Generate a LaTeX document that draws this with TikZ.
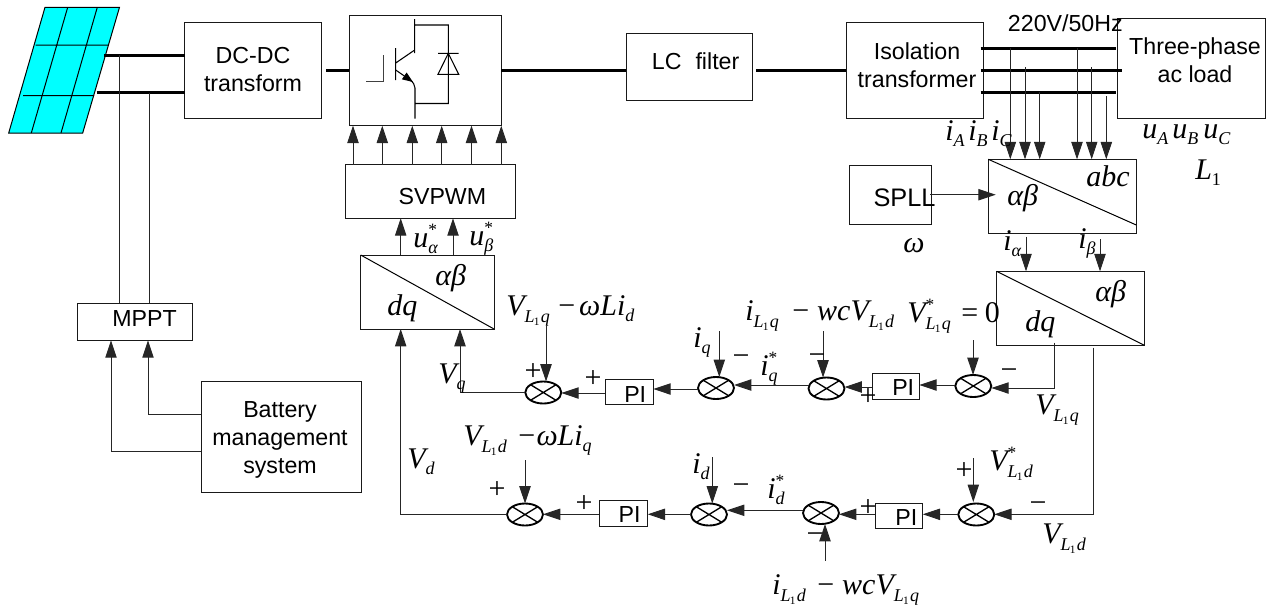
\documentclass[tikz,border=0pt]{standalone}
\usepackage{fontspec}
\setmainfont{Liberation Serif}
\setsansfont{Liberation Sans}
\usetikzlibrary{arrows.meta,shapes.geometric,calc}
\definecolor{pvcyan}{RGB}{0,255,255}
\newcommand\mbig{\fontsize{22.5}{25}\selectfont\itshape}
\newcommand\msub[1]{\raisebox{-5pt}{\fontsize{13.5}{14}\selectfont\itshape #1}}
\newcommand\Lsub[1]{\raisebox{-5.5pt}{\fontsize{13.5}{14}\selectfont\itshape L\kern-0.5pt\raisebox{-2pt}{\fontsize{8.5}{9}\selectfont\upshape 1}\kern1pt#1}}
\newcommand\mstar{\rlap{\raisebox{9pt}{\fontsize{13}{14}\selectfont\upshape *}}}
\newcommand\umin{{\upshape −}}
\tikzset{
  x=0.75pt,y=-0.75pt,
  box/.style={draw=black!90,line width=0.75pt,inner sep=0pt,outer sep=0pt,rectangle},
  txt/.style={font=\sffamily\fontsize{17.4}{21}\selectfont,inner sep=0pt,align=center},
  lbl/.style={anchor=base west,inner sep=0pt,font=\mbig},
  sgn/.style={inner sep=0pt,font=\fontsize{22.5}{25}\selectfont},
  sumn/.style={draw=black,line width=1.4pt,ellipse,minimum width=27pt,minimum height=16.5pt,inner sep=0pt,outer sep=0pt},
  thin line/.style={draw=black!85,line width=0.7pt},
  thick bus/.style={draw=black,line width=2.25pt},
  arr/.style={thin line,-{Triangle[length=13pt,width=8.5pt]}},
}
% name, x1, y1, x2, y2
\newcommand\mkbox[6][]{\node[box,minimum width={(#5-#3)*0.75pt},minimum height={(#6-#4)*0.75pt},#1] (#2) at ({(#3+#5)/2},{(#4+#6)/2}) {};}
\newcommand\mksum[3]{\node[sumn] (#1) at (#2,#3) {};
  \draw[line width=1pt] (#1.north west) -- (#1.south east) (#1.north east) -- (#1.south west);}
\newcommand\lab[4]{\node[lbl] (#1) at (#2,#3) {#4};}
\newcommand\tx[5][]{\node[txt,#1] (#2) at (#3,#4) {#5};}
\begin{document}
\begin{tikzpicture}
\useasboundingbox (0,0) rectangle (1275,608);
% PV panel
\fill[pvcyan] (45,7.3) -- (119.5,7.3) -- (82.7,133) -- (8.7,133) -- cycle;
\draw[line width=0.75pt] (45,7.3) -- (119.5,7.3) -- (82.7,133) -- (8.7,133) -- cycle;
\draw[line width=0.75pt] (35.5,45) -- (108.5,45) (23,95.7) -- (94,95.7)
  (67.7,7.3) -- (31.3,133) (97.3,7.3) -- (61,133);
\coordinate (pv1) at (104,55);
\coordinate (pv2) at (96.7,92.5);
\coordinate (j1) at (119.5,55);
\coordinate (j2) at (149,92.5);
% boxes
\mkbox{dc}{184.5}{22.3}{321.7}{118.5}
\mkbox{inv}{349.3}{15}{501.3}{125.7}
\mkbox{svpwm}{345.3}{164.7}{515.7}{218.3}
\mkbox{lc}{626.3}{33.3}{752.3}{100}
\mkbox{iso}{846.3}{22.3}{983.7}{118.3}
\mkbox{load}{1117.3}{18.7}{1265.7}{118.3}
\mkbox{pabc}{988.3}{159.3}{1136.3}{233}
\mkbox{spll}{849.7}{165}{931.7}{224}
\mkbox{pdqr}{996.7}{271.3}{1144.3}{345.3}
\mkbox{pdql}{360.7}{255}{494}{329}
\mkbox{mppt}{77.7}{303}{192.3}{340.3}
\mkbox{batt}{201}{381.3}{361}{492}
\mkbox{pia}{605.3}{379.3}{653.3}{404}
\mkbox{pib}{872.3}{373.3}{919.3}{399.3}
\mkbox{pic}{599.3}{500.7}{647.7}{526}
\mkbox{pid}{875}{503.3}{922.7}{528.3}
\draw[line width=0.75pt] (pabc.north west) -- (pabc.east |- 0,225);
\draw[line width=0.75pt] (pdqr.north west) -- (pdqr.south east);
\draw[line width=0.75pt] (pdql.north west) -- (pdql.south east);
% summing junctions
\mksum{sa}{543.3}{392.5}
\mksum{sb}{716}{388}
\mksum{sc}{826.5}{388.5}
\mksum{sd}{973.3}{386}
\mksum{se}{525}{514.5}
\mksum{sf}{709}{514.5}
\mksum{sg}{821}{513}
\mksum{sh}{976.3}{514.5}
% IGBT symbol
\draw[line width=0.75pt,draw=black!75]
  (366,81.3) -- (383.7,81.3) (383.7,55) -- (383.7,81.3);
\draw[line width=0.8pt]
  (395.7,48) -- (395.7,80)
  (395.7,63) -- (414.7,50) (414.7,19) -- (414.7,53)
  (414.7,25) -- (448.3,25) -- (448.3,103.5) -- (414.7,103.5)
  (415,88) -- (415,118.5);
\draw[line width=0.8pt,-{Triangle[length=8pt,width=6pt]}] (395.7,70) -- (413,82);
\draw[line width=0.8pt] (410,80) .. controls (413,82) and (415,85) .. (415,88);
\draw[line width=0.8pt] (438,53.3) -- (458.7,53.3) (448.3,53.3) -- (438,74.3) -- (458.7,74.3) -- cycle;
% power buses
\draw[thick bus] (pv1) -- (dc.west |- pv1);
\draw[thick bus] (pv2) -- (dc.west |- pv2);
\coordinate (dcout) at (326,70);
\draw[thick bus] (dcout) -- (inv.west |- dcout);
\draw[thick bus] (inv.east |- 0,70) -- (lc.west |- 0,70);
\coordinate (lcout) at (756,70);
\draw[thick bus] (lcout) -- (iso.west |- lcout);
\coordinate (ba) at (980.7,48);
\coordinate (bb) at (980.7,70);
\coordinate (bc) at (980.7,92);
\coordinate (be) at (1116,48);
\coordinate (bf) at (1122,70);
\coordinate (bg) at (1116,92);
\draw[thick bus] (ba) -- (be);
\draw[thick bus] (bb) -- (bf);
\draw[thick bus] (bc) -- (bg);
% MPPT
\draw[thin line] (j1) -- (j1 |- mppt.north);
\draw[thin line] (j2) -- (j2 |- mppt.north);
\draw[arr] (batt.west |- 0,451.3) -| (mppt.south -| 111,0);
\draw[arr] (batt.west |- 0,414.3) -| (mppt.south -| 148,0);
% gate arrows
\foreach \gx in {353,382.3,412.3,441.7,471.5,501.3}
  \draw[arr] (svpwm.north -| \gx,0) -- (inv.south -| \gx,0);
\draw[arr] (pdql.north -| 400.7,0) -- (svpwm.south -| 400.7,0);
\draw[arr] (pdql.north -| 453,0) -- (svpwm.south -| 453,0);
% measurement arrows
\coordinate (ma) at (1010.3,48);
\coordinate (mb) at (1025,67);
\coordinate (mc) at (1039.7,92);
\coordinate (md) at (1077,48);
\coordinate (me) at (1091.7,67);
\coordinate (mf) at (1106.3,96.3);
\foreach \m in {ma,mb,mc,md,me,mf}
  \draw[arr] (\m) -- (\m |- pabc.north);
\draw[arr] (930,194.7) -- (995.7,194.7);
\coordinate (ia) at (1026,236.7);
\coordinate (ib) at (1100,239);
\draw[arr] (ia) -- (ia |- pdqr.north);
\draw[arr] (ib) -- (ib |- pdqr.north);
% q loop
\coordinate (qo) at (1054,342.7);
\draw[arr] (qo) |- (sd.east |- 0,388);
\draw[arr] (sd.west |- 0,385) -- (pib.east |- 0,385);
\draw[arr] (pib.west |- 0,387) -- (sc.east |- 0,387);
\draw[arr] (sc.west |- 0,385) -- (sb.east |- 0,385);
\draw[arr] (sb.west |- 0,389) -- (pia.east |- 0,389);
\draw[arr] (pia.west |- 0,393) -- (sa.east |- 0,393);
\draw[arr] (sa.west |- 0,392.5) -| (pdql.south -| 460,0);
% d loop
\coordinate (dout) at (1093,347.7);
\draw[arr] (dout) |- (sh.east |- 0,514.3);
\draw[arr] (sh.west |- 0,514.3) -- (pid.east |- 0,514.3);
\draw[arr] (pid.west |- 0,514.3) -- (sg.east |- 0,514.3);
\draw[arr] (sg.west |- 0,510.3) -- (sf.east |- 0,510.3);
\draw[arr] (sf.west |- 0,514.3) -- (pic.east |- 0,514.3);
\draw[arr] (pic.west |- 0,514.3) -- (se.east |- 0,514.3);
\draw[arr] (se.west |- 0,514.3) -| (pdql.south -| 400.7,0);
% feed-forward arrows
\coordinate (fa) at (546,326);
\coordinate (fb) at (719.3,331);
\coordinate (fc) at (823,331);
\coordinate (fd) at (973,340);
\coordinate (fe) at (525,460.3);
\coordinate (ff) at (712.3,457);
\coordinate (fg) at (973.3,458.3);
\coordinate (fh) at (825,560.7);
\draw[arr] (fa) -- (fa |- sa.north);
\draw[arr] (fb) -- (fb |- sb.north);
\draw[arr] (fc) -- (fc |- sc.north);
\draw[arr] (fd) -- (fd |- sd.north);
\draw[arr] (fe) -- (fe |- se.north);
\draw[arr] (ff) -- (ff |- sf.north);
\draw[arr] (fg) -- (fg |- sg.north);
\draw[arr] (fh) -- (fh |- sg.south);
% block texts
\tx{tdc}{253}{69.5}{DC-DC\\[0.5pt]transform}
\tx[anchor=base west]{tsv}{398.3}{204}{SVPWM}
\tx[anchor=base west]{tlc}{651.7}{69}{LC\hspace{0.6em}filter}
\tx{tiso}{917}{65.5}{Isolation\\transformer}
\tx{tload}{1195}{60.5}{Three-phase\\ac load}
\tx[anchor=base west]{tvolt}{1007.7}{31.7}{220V/50Hz}
\tx[anchor=base west,font=\sffamily\fontsize{19}{21}\selectfont]{tspll}{873.3}{206.7}{SPLL}
\tx[anchor=base west]{tmp}{112}{326.7}{MPPT}
\tx{tbat}{280}{439.5}{Battery\\management\\system}
\tx[anchor=base west]{tpa}{624}{402.7}{PI}
\tx[anchor=base west]{tpb}{892}{395}{PI}
\tx[anchor=base west]{tpc}{618.3}{522.7}{PI}
\tx[anchor=base west]{tpd}{895}{525}{PI}
% math labels
\lab{la}{945}{140}{i\msub{A}}
\lab{lb}{968}{140}{i\msub{B}}
\lab{lc2}{991}{140}{i\msub{C}}
\lab{lu1}{1142}{138}{u\msub{A}}
\lab{lu2}{1172}{138}{u\msub{B}}
\lab{lu3}{1203}{138}{u\msub{C}}
\lab{ll1}{1195}{179}{L\msub{\upshape 1}}
\lab{lw}{903}{252}{ω}
\lab{lab1}{1007}{205}{αβ}
\lab{labc}{1086}{186}{abc}
\lab{lia}{1003}{250}{i\msub{α}}
\lab{lib}{1078}{248}{i\msub{β}}
\lab{lab2}{1095}{301}{αβ}
\lab{ldq2}{1025}{331}{dq}
\lab{lua}{413}{247}{u\mstar\msub{α}}
\lab{lub}{469}{245}{u\mstar\msub{β}}
\lab{lab3}{435}{285}{αβ}
\lab{ldq1}{387}{315}{dq}
\lab{lv1}{506}{315}{V\Lsub{q}}
\lab{lv1b}{558}{315}{\umin\kern3pt ωLi\msub{d}}
\lab{liq}{693}{347}{i\msub{q}}
\lab{lvq}{438}{383}{V\msub{q}}
\lab{li2}{745}{320}{i\Lsub{q}}
\lab{li2b}{792}{320}{\umin\kern6pt wcV\Lsub{d}}
\lab{lv2}{907}{322}{V\mstar\Lsub{q}}
\lab{lv2b}{961}{322}{{\upshape =}\kern5pt{\upshape 0}}
\lab{liqs}{760}{375}{i\mstar\msub{q}}
\lab{lvlq}{1035}{414}{V\Lsub{q}}
\lab{lvd}{407}{468}{V\msub{d}}
\lab{lv3}{463}{445}{V\Lsub{d}}
\lab{lv3b}{518}{445}{\umin\kern1pt ωLi\msub{q}}
\lab{lid}{692}{473}{i\msub{d}}
\lab{lids}{767}{498}{i\mstar\msub{d}}
\lab{lv4}{989}{470}{V\mstar\Lsub{d}}
\lab{lvld}{1042}{543}{V\Lsub{d}}
\lab{li4}{772}{594}{i\Lsub{d}}
\lab{li4b}{817}{594}{\umin\kern6pt wcV\Lsub{q}}
% signs
\node[sgn] (p1) at (533,372) {+};
\node[sgn] (p2) at (593,379) {+};
\node[sgn] (m1) at (741,360) {−};
\node[sgn] (m2) at (817,359) {−};
\node[sgn] (p3) at (868,397) {+};
\node[sgn] (m3) at (1009,374) {−};
\node[sgn] (p4) at (497,490) {+};
\node[sgn] (p5) at (584,504) {+};
\node[sgn] (m4) at (741,489) {−};
\node[sgn] (p6) at (868,508) {+};
\node[sgn] (p7) at (964,471) {+};
\node[sgn] (m5) at (1038,507) {−};
\node[sgn] (m6) at (815,538) {−};
\end{tikzpicture}
\end{document}
